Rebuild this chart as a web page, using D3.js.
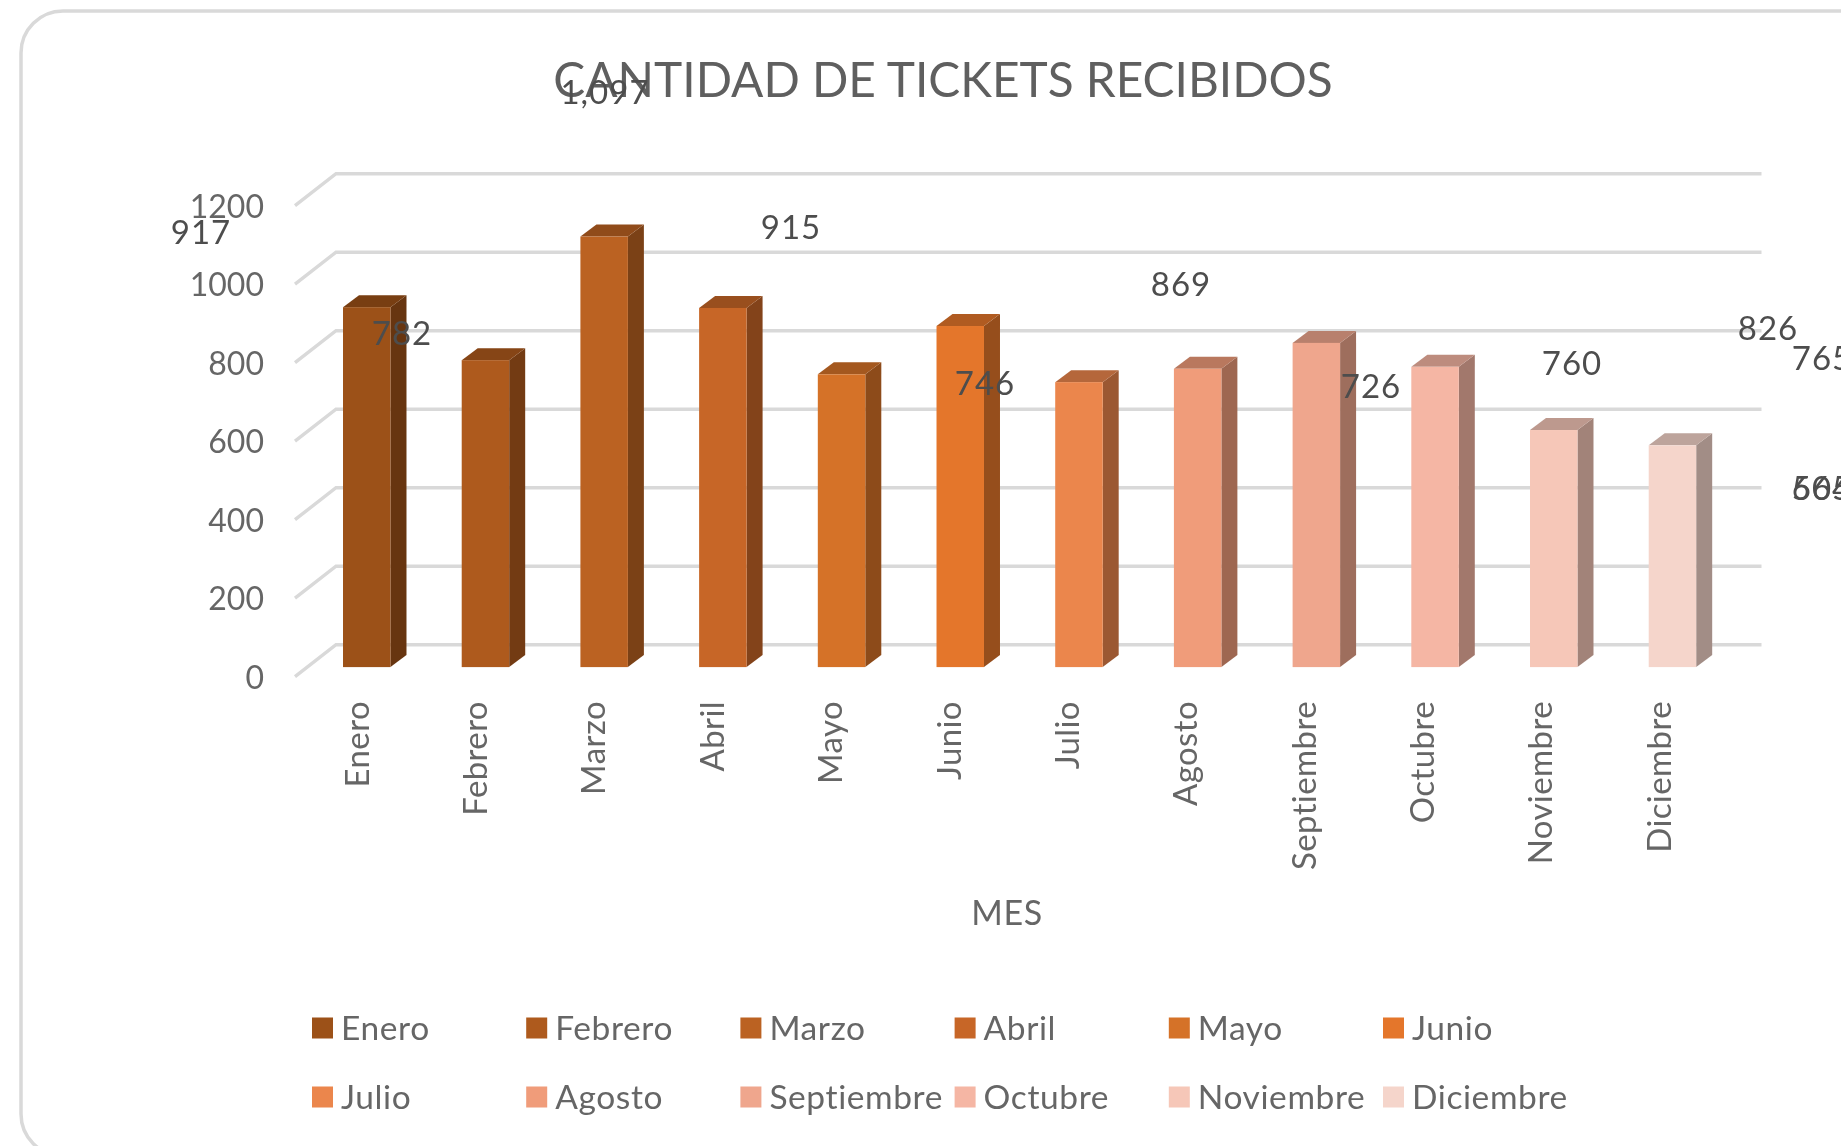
<!DOCTYPE html>
<html lang="es">
<head>
<meta charset="utf-8">
<title>Cantidad de tickets recibidos</title>
<script src="https://cdn.jsdelivr.net/npm/d3@7"></script>
<style>
html,body{margin:0;padding:0;background:#fff;overflow:hidden}
svg{display:block;filter:blur(.6px)}
text{font-family:Lato,"Open Sans",sans-serif;font-variant-ligatures:none}
</style>
</head>
<body>
<script>
// ---- data ----
const meses = ["Enero","Febrero","Marzo","Abril","Mayo","Junio","Julio","Agosto","Septiembre","Octubre","Noviembre","Diciembre"];
const tickets = [917,782,1097,915,746,869,726,760,826,765,604,565];
const yTicks = [0,200,400,600,800,1000,1200];
const colores = ["#9C5118","#AE5A1D","#BB6222","#C76627","#D57228","#E4762B","#EB864C","#F09C7A","#EFA68D","#F5B6A4","#F6C7B8","#F5D5CB"];
const titulo = "CANTIDAD DE TICKETS RECIBIDOS";
const tituloEje = "MES";

// ---- layout (not data) ----
const W = 1841, H = 1146;
const front0 = 676.7, front1200 = 205.7;
const depth = {gx:41, gy:32, bx:16, by:12, floor:9.6};
const labelCentres = [[201,232],[402,333],[605,92],[791,227],[985,383],[1181,284],[1371,386],[1572,363],[1768,328],[1822,358],[1822,488],[1822,488]];

const svg = d3.select("body").append("svg").attr("width",W).attr("height",H);

svg.append("rect").attr("x",21).attr("y",11).attr("width",1860).attr("height",1145)
  .attr("rx",42).attr("ry",42).attr("fill","#fff").attr("stroke","#d9d9d9").attr("stroke-width",3.5);

const x = d3.scaleBand().domain(meses).range([307.4,1731.8]).paddingInner(.6).paddingOuter(.3);
const y = d3.scaleLinear().domain([0,1200]).range([front0,front1200]);

// gridlines: a back wall line plus the receding side-wall segment
const gridX0 = 295, gridX1 = 1761.5;
const grid = svg.append("g").attr("fill","none").attr("stroke","#d9d9d9").attr("stroke-width",3.4);
grid.selectAll("path").data(yTicks).join("path")
  .attr("d", d => d3.line()([[gridX0,y(d)],[gridX0+depth.gx,y(d)-depth.gy],[gridX1,y(d)-depth.gy]]));

// 3D bars
const shade = (c,f) => { const r = d3.rgb(c); return d3.rgb(r.r*f,r.g*f,r.b*f).formatHex(); };
const bars = svg.append("g").selectAll("g").data(meses).join("g");
const bw = x.bandwidth();
const x0 = d => x(d);
const yb = v => y(v) - depth.floor;
bars.append("path").attr("fill",(d,i)=>shade(colores[i],.66))
  .attr("d",(d,i)=>d3.line()([[x0(d)+bw,yb(tickets[i])],[x0(d)+bw+depth.bx,yb(tickets[i])-depth.by],[x0(d)+bw+depth.bx,yb(0)-depth.by],[x0(d)+bw,yb(0)]])+"Z");
bars.append("path").attr("fill",(d,i)=>shade(colores[i],.77))
  .attr("d",(d,i)=>d3.line()([[x0(d),yb(tickets[i])],[x0(d)+depth.bx,yb(tickets[i])-depth.by],[x0(d)+bw+depth.bx,yb(tickets[i])-depth.by],[x0(d)+bw,yb(tickets[i])]])+"Z");
bars.append("rect").attr("fill",(d,i)=>colores[i])
  .attr("x",d=>x0(d)).attr("width",bw)
  .attr("y",(d,i)=>yb(tickets[i])).attr("height",(d,i)=>yb(0)-yb(tickets[i]));

// y axis
const yAxis = svg.append("g").attr("transform","translate(264,0)")
  .call(d3.axisLeft(y).tickValues(yTicks).tickSize(0).tickPadding(0).tickFormat(d3.format("d")));
yAxis.select(".domain").remove();
yAxis.selectAll("text").attr("font-size",32).attr("fill","#666666").attr("font-family","Lato").attr("dy","0.36em");

// x axis: rotated month labels
const xAxis = svg.append("g").attr("transform","translate(0,701)")
  .call(d3.axisBottom(x).tickSize(0).tickPadding(0));
xAxis.select(".domain").remove();
xAxis.selectAll("text")
  .attr("font-size",33).attr("fill","#666666").attr("font-family","Lato").attr("letter-spacing",.4)
  .attr("text-anchor","end").attr("y",0).attr("dy",0).attr("x",0)
  .attr("transform",(d,i)=>`translate(${2-i*0.35},0) rotate(-90)`);

// axis title and chart title
svg.append("text").attr("x",1007).attr("y",913).attr("dy","0.36em").attr("text-anchor","middle")
  .attr("font-size",34).attr("letter-spacing",.7).attr("fill","#666666").text(tituloEje);
svg.append("text").attr("x",943).attr("y",97).attr("text-anchor","middle")
  .attr("font-size",47.8).attr("fill","#5f5f5f").text(titulo);

// legend
const legendCols = 6, colStep = 214.2, rowStep = 69;
const legend = svg.append("g").selectAll("g").data(meses).join("g")
  .attr("transform",(d,i)=>`translate(${312+(i%legendCols)*colStep},${1028+Math.floor(i/legendCols)*rowStep})`);
legend.append("rect").attr("x",0).attr("y",-10.5).attr("width",21).attr("height",21).attr("fill",(d,i)=>colores[i]);
legend.append("text").attr("x",29).attr("dy","0.36em").attr("font-size",33.5).attr("letter-spacing",.6).attr("fill","#666666").text(d=>d);

// data labels, scattered as in the source chart
svg.append("g").selectAll("text").data(tickets).join("text")
  .attr("x",(d,i)=>labelCentres[i][0]).attr("y",(d,i)=>labelCentres[i][1])
  .attr("dy","0.36em").attr("text-anchor","middle").attr("font-size",33).attr("letter-spacing",1).attr("fill","#4d4d4d")
  .text(d=>d3.format(",")(d));
</script>
</body>
</html>
